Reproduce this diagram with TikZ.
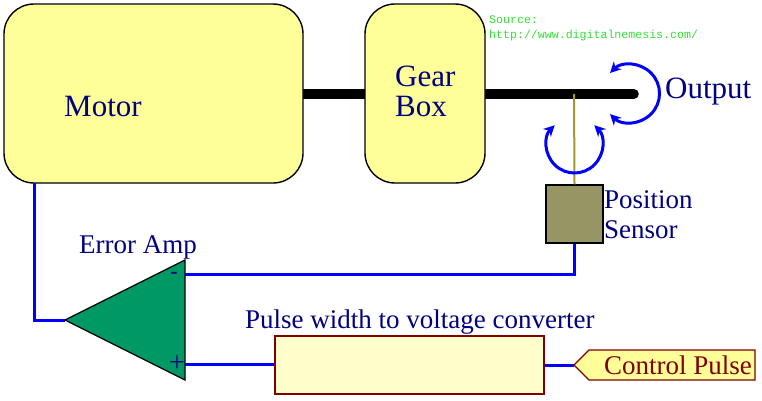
\documentclass[tikz,border=0pt]{standalone}
\usepackage{fontspec}
\setmainfont{Liberation Serif}
\newfontfamily\srcfont{Liberation Mono}
\usetikzlibrary{arrows.meta,calc}
\definecolor{boxyellow}{HTML}{FFFF99}
\definecolor{pale}{HTML}{FFFFCC}
\definecolor{txtblue}{HTML}{000080}
\definecolor{wire}{HTML}{0000FF}
\definecolor{olivebox}{HTML}{969665}
\definecolor{rod}{HTML}{A09A30}
\definecolor{ampgreen}{HTML}{009966}
\definecolor{pulsered}{HTML}{800000}
\definecolor{srcgreen}{HTML}{33E033}
\tikzset{
  x=1pt,y=-1pt,
  block/.style={draw=black,line width=1.4pt,fill=boxyellow,rounded corners=30pt,inner sep=0pt},
  lab/.style={text=txtblue,inner sep=0pt,anchor=west,font=\fontsize{27}{30}\selectfont,align=left},
  biglab/.style={lab,font=\fontsize{31}{30}\selectfont},
  wireline/.style={draw=wire,line width=3pt,line join=miter},
  turn/.style={draw=wire,line width=3pt,{Stealth[length=11pt,width=11pt]}-{Stealth[length=11pt,width=11pt]}},
  srctext/.style={text=srcgreen,inner sep=0pt,anchor=west,font=\fontsize{11.6}{15}\srcfont\selectfont},
}
\begin{document}
\begin{tikzpicture}
\useasboundingbox (0,0) rectangle (762,400);
\fill[white] (0,0) rectangle (762,400);
% shaft, under the blocks
\coordinate (shaftstart) at (290,94);
\coordinate (shaftend) at (634,94);
\coordinate (rodtop) at (574,94);
\draw[line width=9.5pt,line cap=round] (shaftstart) -- (shaftend);
% nodes
\node[block,minimum width=299pt,minimum height=179pt] (motor) at (153.5,93.5) {};
\node[block,minimum width=120pt,minimum height=179pt] (gear) at (425,93.5) {};
\node[biglab] (motorlab) at (64,106) {Motor};
\node[biglab] (gearlab) at (395,76) {Gear};
\node[biglab] (boxlab) at (395,106) {Box};
\node[draw=black,line width=1.4pt,fill=olivebox,minimum width=57pt,minimum height=58pt,inner sep=0pt] (sensor) at (574.5,214) {};
\node[draw=pulsered,line width=1.2pt,fill=pale,minimum width=269pt,minimum height=58pt,inner sep=0pt] (conv) at (409.5,365) {};
% amp
\coordinate (ampout) at (65,320);
\coordinate (amptop) at (185,260);
\coordinate (ampbot) at (185,380);
\coordinate (ampminus) at (185,274);
\coordinate (ampplus) at (185,364);
\coordinate (motorwire) at (34,183);
% pulse
\coordinate (ptip) at (574,365);
% connectors
\draw[wireline] (motorwire) -- (34,320) -- (ampout);
\draw[wireline] (ampminus) -- (sensor.south |- ampminus) -- (sensor.south);
\draw[wireline] (ampplus) -- (conv.west |- ampplus);
\draw[wireline] (conv.east) -- (ptip);
\draw[rod,line width=2pt] (rodtop) -- (sensor.north);
\draw[black,fill=ampgreen,line width=1.2pt,line join=miter] (ampout) -- (amptop) -- (ampbot) -- cycle;
\node[text=txtblue,inner sep=0pt,font=\fontsize{22}{22}\selectfont\bfseries] (minus) at (174,275) {-};
\node[text=txtblue,inner sep=0pt,font=\fontsize{28}{28}\selectfont] (plus) at (177,364) {+};
\draw[pulsered,line width=1.2pt,fill=boxyellow] (ptip) -- (589,350) -- (755,350) -- (755,380) -- (589,380) -- cycle;
% labels
\node[lab] (amplab) at (79,247) {Error Amp};
\node[lab] (convlab) at (245,322) {Pulse width to voltage converter};
\node[lab] (poslab) at (604,200) {Position};
\node[lab] (senslab) at (604,230) {Sensor};
\node[biglab] (outlab) at (665,92) {Output};
\node[lab,text=pulsered] (pulselab) at (604,365) {Control Pulse};
\node[srctext] (src1) at (489,20) {Source:};
\node[srctext] (src2) at (489,35) {http://www.digitalnemesis.com/};
% rotation arrows
\draw[turn] (610,73) arc[start angle=135,end angle=-135,radius=29pt];
\draw[turn] (554.7,125.2) arc[start angle=135,end angle=405,radius=28pt];
\end{tikzpicture}
\end{document}
